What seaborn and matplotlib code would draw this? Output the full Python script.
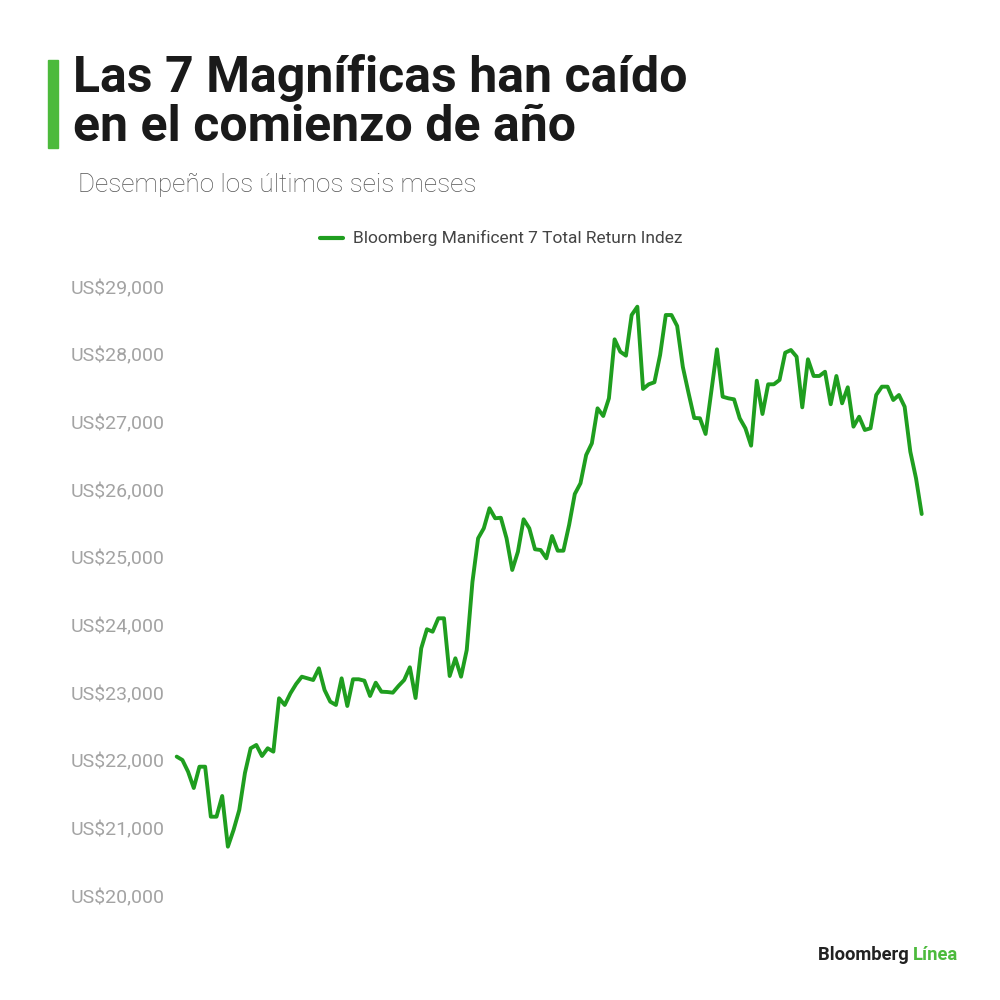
import pandas as pd
import seaborn as sns
import numpy as np
import matplotlib.pyplot as plt


# Valores del indice (aprox., un punto por sesion)
valores = [
    22060, 22010, 21837, 21596, 21911, 21911, 21172, 21172, 21478, 20729,
    20976, 21271, 21818, 22183, 22232, 22069, 22183, 22133, 22922, 22823,
    22996, 23133, 23241, 23217, 23192, 23365, 23044, 22872, 22823, 23217,
    22808, 23203, 23203, 23182, 22956, 23152, 23019, 23015, 23005, 23104,
    23192, 23380, 22926, 23661, 23942, 23906, 24104, 24104, 23251, 23513,
    23241, 23636, 24640, 25286, 25434, 25730, 25582, 25590, 25286, 24818,
    25088, 25567, 25434, 25124, 25113, 24991, 25320, 25103, 25103, 25483,
    25941, 26099, 26517, 26690, 27207, 27094, 27355, 28227, 28044, 27985,
    28586, 28709, 27493, 27562, 27592, 27995, 28586, 28586, 28424, 27818,
    27434, 27064, 27060, 26828, 27453, 28079, 27379, 27355, 27340, 27060,
    26912, 26655, 27615, 27123, 27562, 27562, 27626, 28029, 28069, 27970,
    27222, 27932, 27685, 27685, 27748, 27267, 27685, 27281, 27518, 26936,
    27083, 26887, 26912, 27404, 27527, 27527, 27330, 27404, 27231, 26566,
    26173, 25645,
]
dias = list(range(len(valores)))

yticks = [20000, 21000, 22000, 23000, 24000, 25000, 26000, 27000, 28000, 29000]
ytick_labels = ["US$" + format(v, ",") for v in yticks]

serie = "Bloomberg Manificent 7 Total Return Indez"
titulo = "Las 7 Magníficas han caído\nen el comienzo de año"
subtitulo = "Desempeño los últimos seis meses"

verde = "#1f9e1f"
verde_claro = "#4cba3c"

df = pd.DataFrame({"dia": dias, "valor": valores})

sns.set_style("white")
plt.rcParams["font.family"] = ["Roboto", "DejaVu Sans"]

fig = plt.figure(figsize=(10, 10), dpi=100)
ax = fig.add_axes([0.1767, 0.104, 0.745, 0.609])

sns.lineplot(data=df, x="dia", y="valor", ax=ax, color=verde, linewidth=2.8, clip_on=False)

ax.set_xlim(0, len(valores) - 1)
ax.set_ylim(20000, 29000)
ax.set_yticks(yticks)
ax.set_yticklabels(ytick_labels, color="#a3a3a3", fontsize=14)
ax.set_xticks([])
ax.set_xlabel("")
ax.set_ylabel("")
ax.tick_params(axis="y", length=0, pad=9)
for sp in ax.spines.values():
    sp.set_visible(False)

# barra verde del titulo
fig.patches.append(plt.Rectangle((0.048, 0.852), 0.01, 0.088, transform=fig.transFigure,
                                 color=verde_claro, zorder=3))
fig.text(0.073, 0.946, titulo, fontsize=36, fontweight="bold", color="#1a1a1a",
         va="top", ha="left", linespacing=1.06)
fig.text(0.078, 0.815, subtitulo, fontsize=18.8, fontweight="light", color="#555555",
         va="center", ha="left")

# leyenda
fig.lines.append(plt.Line2D([0.320, 0.343], [0.762, 0.762], transform=fig.transFigure,
                            color=verde, linewidth=3))
fig.text(0.353, 0.762, serie, fontsize=12.5, color="#444444", va="center", ha="left")

# marca
t = fig.text(0.818, 0.045, "Bloomberg ", fontsize=13.2, fontweight="bold", color="#222222",
             va="center", ha="left")
fig.canvas.draw()
bb = t.get_window_extent()
fig.text(bb.x1 / 1000, 0.045, "Línea", fontsize=13.2, fontweight="bold", color=verde_claro,
         va="center", ha="left")

fig.savefig("out.png", dpi=100, facecolor="white")
